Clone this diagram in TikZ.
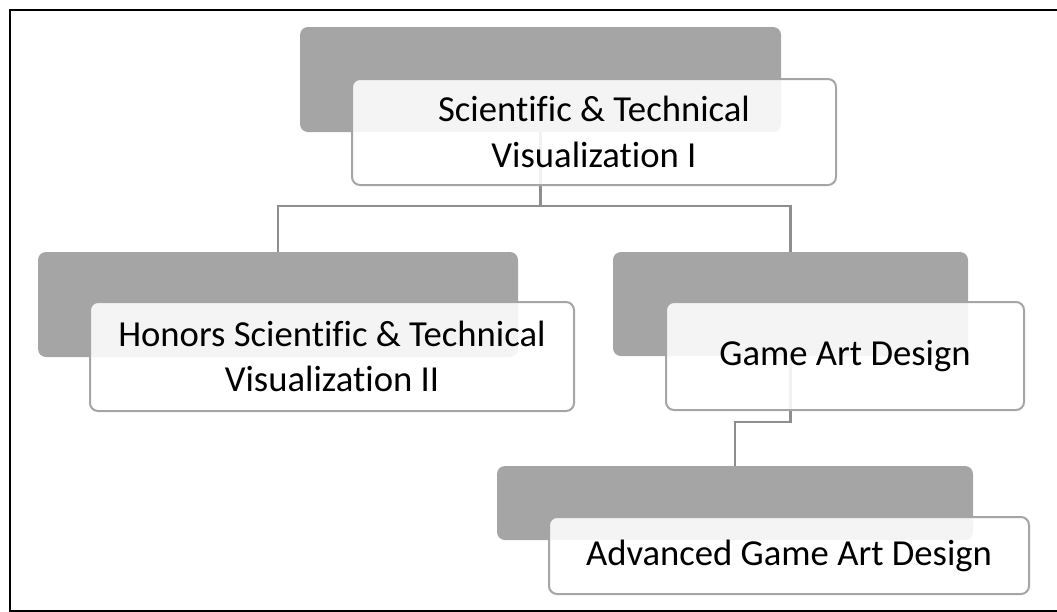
\documentclass[tikz,border=0pt]{standalone}
\usepackage{fontspec}
\setmainfont{Carlito}[Ligatures=CommonOff]
\usepackage{tikz}
\usetikzlibrary{positioning}
\definecolor{boxGray}{HTML}{A5A5A5}
\definecolor{lineGray}{HTML}{8E8E8E}

\begin{document}
\begin{tikzpicture}[x=0.75pt, y=-0.75pt,
    back/.style={fill=boxGray, rounded corners=6pt, inner sep=0pt},
    card/.style={draw=boxGray, line width=1.5pt, fill=white, fill opacity=0.88, text opacity=1, rounded corners=6pt, align=center, inner sep=0pt, font=\fontsize{27.5}{34}\selectfont},
    link/.style={draw=lineGray, line width=1.6pt}]
    \clip (0,0) rectangle (1057,611);
    \draw[line width=1.6pt] (10,10) rectangle (1080,611);
    % shadow blocks
    \node[back, minimum width=360.75pt, minimum height=78.75pt] (g1) at (540.5,79.5) {};
    \node[back, minimum width=360pt, minimum height=78.75pt] (g2) at (278,304.5) {};
    \node[back, minimum width=266.25pt, minimum height=78pt] (g3) at (790.5,304) {};
    \node[back, minimum width=357pt, minimum height=55.5pt] (g4) at (735,503) {};
    % links
    \coordinate (j1) at (540.5,206);
    \coordinate (j2) at (790.5,422);
    \draw[link] (g1.south) -- (j1);
    \draw[link] (j1) -| (g2.north);
    \draw[link] (j1) -| (g3.north);
    \draw[link] (g3.south) -- (j2) -| (g4.north);
    % labels
    \node[card, minimum width=363pt, minimum height=79.5pt] (w1) at (594,132) {Scientific \& Technical\\Visualization I};
    \node[card, minimum width=363pt, minimum height=81.75pt] (w2) at (332,356.5) {Honors Scientific \& Technical\\Visualization II};
    \node[card, minimum width=268.5pt, minimum height=81pt] (w3) at (845,356) {Game Art Design};
    \node[card, minimum width=360pt, minimum height=57.75pt] (w4) at (789,555.5) {Advanced Game Art Design};
  \end{tikzpicture}
\end{document}
